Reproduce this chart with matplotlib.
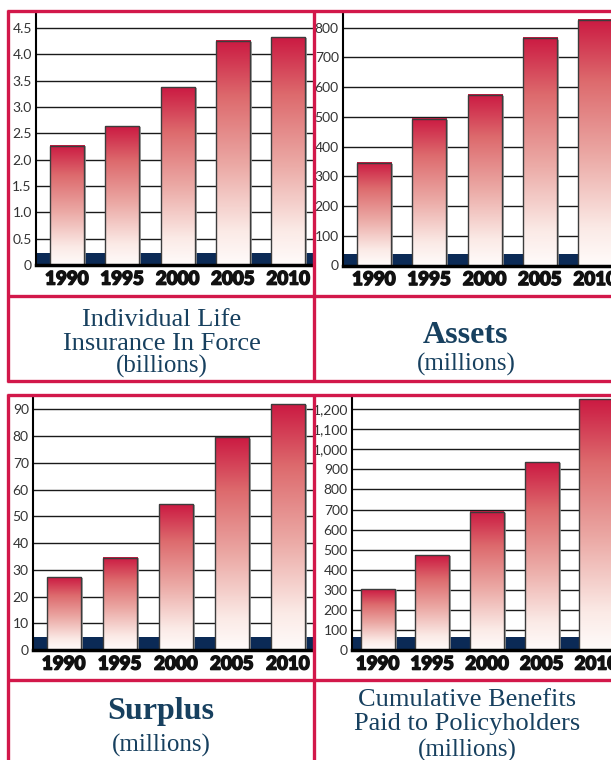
import numpy as np
import matplotlib
matplotlib.use('Agg')
import matplotlib.pyplot as plt
import matplotlib.patheffects as pe
from matplotlib.colors import LinearSegmentedColormap
from matplotlib.patches import Rectangle
from matplotlib.lines import Line2D
from matplotlib.ticker import FuncFormatter

years = ['1990', '1995', '2000', '2005', '2010']

insurance_in_force = [2.26, 2.63, 3.37, 4.25, 4.32]  # billions
assets = [344, 492, 573, 764, 825]  # millions
surplus = [27.2, 34.5, 54.5, 79.5, 92.0]  # millions
cumulative_benefits = [302, 472, 688, 937, 1250]  # millions

W, H = 611, 760
RED = '#d2184a'
NAVY = '#0b2a56'
TITLE = '#17405f'

fig = plt.figure(figsize=(W / 100, H / 100), dpi=100)
fig.patch.set_facecolor('white')

bar_cmap = LinearSegmentedColormap.from_list(
    'bars', [(0.0, '#fffbfa'), (0.15, '#fbeae6'), (0.45, '#eba8a4'),
             (0.75, '#dd6a6d'), (1.0, '#cb1a42')])
grad = np.linspace(0, 1, 256).reshape(-1, 1)


def px_axes(left, top, right, bottom):
    return fig.add_axes([left / W, 1 - bottom / H, (right - left) / W, (bottom - top) / H])


def bar_panel(ax, values, ymax, ticks, xlim, bar_w, band_px, axes_h, fmt):
    ax.set_axisbelow(True)
    ax.yaxis.grid(True, color='#1a1a1a', lw=1.0, zorder=1)
    ax.add_patch(Rectangle((0, 0), 1, band_px / axes_h, transform=ax.transAxes,
                           facecolor=NAVY, edgecolor='none', zorder=2))
    for i, v in enumerate(values):
        ax.imshow(grad, extent=(i - bar_w / 2, i + bar_w / 2, 0, v), origin='lower',
                  cmap=bar_cmap, aspect='auto', zorder=3, interpolation='bilinear')
        # soft grey shadow along the right side
        ax.plot([i + bar_w / 2 + 0.02] * 2, [0, v * 0.995], color='#9a9a9a', lw=1.2,
                zorder=2.5, solid_capstyle='butt')
    ax.bar(range(len(values)), values, width=bar_w, facecolor='none',
           edgecolor='#3c3c3c', lw=1.0, zorder=4)
    ax.set_xlim(*xlim)
    ax.set_ylim(0, ymax)
    ax.set_yticks(ticks)
    ax.yaxis.set_major_formatter(FuncFormatter(fmt))
    ax.set_xticks(range(len(years)))
    ax.set_xticklabels(years, family=['Lato', 'DejaVu Sans'], fontweight='black',
                       fontsize=13.5, color='#111111')
    for lab in ax.get_xticklabels():
        # heavier strokes for the year labels
        lab.set_path_effects([pe.withStroke(linewidth=1.1, foreground='#111111')])
    ax.tick_params(axis='x', length=0, pad=4)
    ax.tick_params(axis='y', length=0, pad=3, labelsize=10, labelcolor='#333333')
    for lab in ax.get_yticklabels():
        lab.set_family(['Lato', 'DejaVu Sans'])
    ax.spines['top'].set_visible(False)
    ax.spines['right'].set_visible(False)
    ax.spines['left'].set_linewidth(1.5)
    ax.spines['bottom'].set_linewidth(2.5)
    ax.spines['bottom'].set_zorder(5)
    ax.set_facecolor('white')


def plain(v, pos):
    return '0' if v == 0 else f'{v:g}'


def one_dec(v, pos):
    return '0' if v == 0 else f'{v:.1f}'


def comma(v, pos):
    return f'{int(v):,}'


ax1 = px_axes(36, 12, 313, 265)
bar_panel(ax1, insurance_in_force, 4.80, np.arange(0, 4.51, 0.5), (-0.56, 4.45), 0.615, 12, 253, one_dec)

ax2 = px_axes(343, 12, 620, 265.5)
bar_panel(ax2, assets, 853, np.arange(0, 801, 100), (-0.56, 4.45), 0.615, 12, 253.5, plain)

ax3 = px_axes(33, 396, 313, 650)
bar_panel(ax3, surplus, 95, np.arange(0, 91, 10), (-0.55, 4.45), 0.61, 13, 254, plain)

ax4 = px_axes(352, 396, 622, 650)
bar_panel(ax4, cumulative_benefits, 1266, np.arange(0, 1201, 100), (-0.47, 4.47), 0.62, 13, 254, comma)


# red frame around the panels
def red_line(x0, y0, x1, y1, lw=2.4):
    fig.add_artist(Line2D([x0 / W, x1 / W], [1 - y0 / H, 1 - y1 / H], color=RED, lw=lw,
                          transform=fig.transFigure, zorder=10, solid_capstyle='butt'))


red_line(7, 11, 640, 11)
red_line(8, 296, 640, 296)
red_line(7, 381, 640, 381)
red_line(8, 10, 8, 382)
red_line(314, 10, 314, 382)

red_line(7, 395, 640, 395)
red_line(8, 680, 640, 680)
red_line(8, 394, 8, 780)
red_line(314, 394, 314, 780)


def title(x, y, s, size, weight='normal'):
    fig.text(x / W, 1 - y / H, s, ha='center', va='baseline', fontsize=size,
             fontweight=weight, color=TITLE, family=['Liberation Serif', 'DejaVu Serif'])


title(162, 326, 'Individual Life', 19)
title(162, 350, 'Insurance In Force', 19)
title(162, 373, '(billions)', 18)

title(466, 343, 'Assets', 23, 'bold')
title(466, 371, '(millions)', 18)

title(161, 719, 'Surplus', 23, 'bold')
title(161, 752, '(millions)', 18)

title(467, 706, 'Cumulative Benefits', 19)
title(467, 730, 'Paid to Policyholders', 19)
title(467, 757, '(millions)', 18)

fig.savefig('out.png', dpi=100)
